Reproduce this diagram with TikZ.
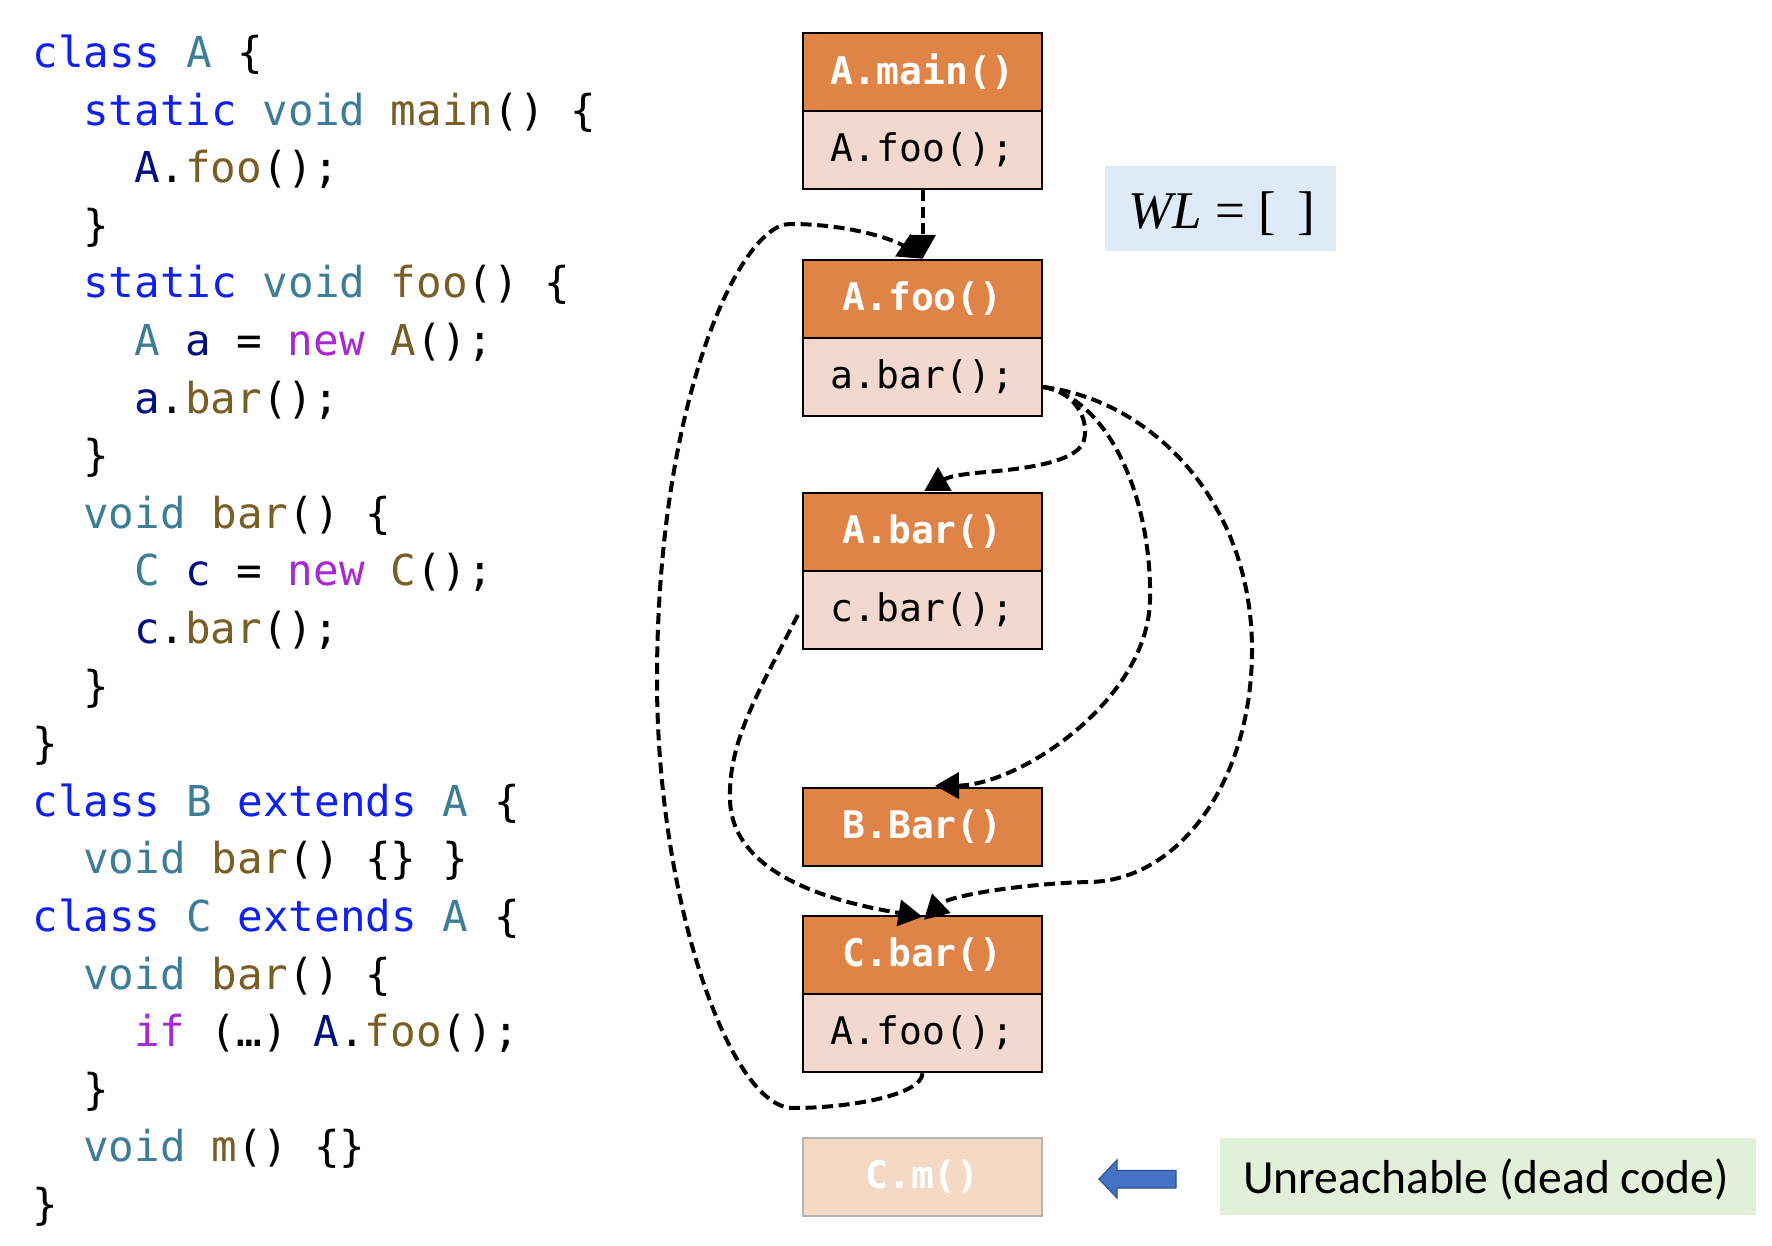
\documentclass[tikz,border=0pt]{standalone}
\usepackage{fontspec}
\setmonofont{DejaVu Sans Mono}
\newfontfamily\wlfont{Liberation Serif}
\newfontfamily\calfont{Carlito}
\usetikzlibrary{arrows.meta}
\definecolor{ckwc}{RGB}{16,32,240}
\definecolor{ctyc}{RGB}{62,125,152}
\definecolor{cfnc}{RGB}{121,94,38}
\definecolor{cvarc}{RGB}{0,16,128}
\definecolor{cpurc}{RGB}{168,40,214}
\definecolor{hdrorange}{RGB}{224,131,71}
\definecolor{bodypink}{RGB}{242,216,206}
\definecolor{deadfill}{RGB}{244,217,196}
\definecolor{deadline}{RGB}{181,181,181}
\definecolor{wlblue}{RGB}{222,234,245}
\definecolor{notegreen}{RGB}{226,239,217}
\definecolor{arrowblue}{RGB}{68,114,196}
\definecolor{arrowedge}{RGB}{47,82,143}
\newcommand{\ckw}[1]{\textcolor{ckwc}{#1}}
\newcommand{\cty}[1]{\textcolor{ctyc}{#1}}
\newcommand{\cfn}[1]{\textcolor{cfnc}{#1}}
\newcommand{\cvar}[1]{\textcolor{cvarc}{#1}}
\newcommand{\cpur}[1]{\textcolor{cpurc}{#1}}
\begin{document}
\begin{tikzpicture}[x=0.5pt,y=-0.5pt,
  codeline/.style={anchor=base west, inner sep=0pt, font=\ttfamily\fontsize{21.3pt}{25pt}\selectfont},
  hdr/.style={draw=black, line width=1.2pt, fill=hdrorange, text=white, minimum width=119.5pt, minimum height=39pt, inner sep=0pt, font=\ttfamily\bfseries\fontsize{19pt}{22pt}\selectfont},
  bdy/.style={hdr, fill=bodypink, text=black, font=\ttfamily\fontsize{19pt}{22pt}\selectfont},
  deadbox/.style={hdr, draw=deadline, fill=deadfill},
  conn/.style={line width=2pt, dash pattern=on 5.5pt off 2.8pt, -{Triangle[length=12pt,width=13pt]}},
]
\useasboundingbox (0,0) rectangle (1772,1246);

% code
\node[codeline] (c1)  at (32,67.5)    {\ckw{class} \cty{A} \{};
\node[codeline] (c2)  at (82.8,125.1) {\ckw{static} \cty{void} \cfn{main}() \{};
\node[codeline] (c3)  at (133.6,182.7) {\cvar{A}.\cfn{foo}();};
\node[codeline] (c4)  at (82.8,240.3) {\}};
\node[codeline] (c5)  at (82.8,297.9) {\ckw{static} \cty{void} \cfn{foo}() \{};
\node[codeline] (c6)  at (133.6,355.5) {\cty{A} \cvar{a} = \cpur{new} \cfn{A}();};
\node[codeline] (c7)  at (133.6,413.1) {\cvar{a}.\cfn{bar}();};
\node[codeline] (c8)  at (82.8,470.7) {\}};
\node[codeline] (c9)  at (82.8,528.3) {\cty{void} \cfn{bar}() \{};
\node[codeline] (c10) at (133.6,585.9) {\cty{C} \cvar{c} = \cpur{new} \cfn{C}();};
\node[codeline] (c11) at (133.6,643.5) {\cvar{c}.\cfn{bar}();};
\node[codeline] (c12) at (82.8,701.1) {\}};
\node[codeline] (c13) at (32,758.7)   {\}};
\node[codeline] (c14) at (32,816.3)   {\ckw{class} \cty{B} \ckw{extends} \cty{A} \{};
\node[codeline] (c15) at (82.8,873.9) {\cty{void} \cfn{bar}() \{\} \}};
\node[codeline] (c16) at (32,931.5)   {\ckw{class} \cty{C} \ckw{extends} \cty{A} \{};
\node[codeline] (c17) at (82.8,989.1) {\cty{void} \cfn{bar}() \{};
\node[codeline] (c18) at (133.6,1046.7) {\cpur{if} (…) \cvar{A}.\cfn{foo}();};
\node[codeline] (c19) at (82.8,1104.3) {\}};
\node[codeline] (c20) at (82.8,1161.9) {\cty{void} \cfn{m}() \{\}};
\node[codeline] (c21) at (32,1219.5)  {\}};

% call graph boxes
\node[hdr] (amainh) at (922.5,72)   {A.main()};
\node[bdy] (amainb) at (922.5,150)  {A.foo();};
\node[hdr] (afooh)  at (922.5,299)  {A.foo()};
\node[bdy] (afoob)  at (922.5,377)  {a.bar();};
\node[hdr] (abarh)  at (922.5,532)  {A.bar()};
\node[bdy] (abarb)  at (922.5,610)  {c.bar();};
\node[hdr] (bbar)   at (922.5,827)  {B.Bar()};
\node[hdr] (cbarh)  at (922.5,955)  {C.bar()};
\node[bdy] (cbarb)  at (922.5,1033) {A.foo();};
\node[deadbox] (cm) at (922.5,1177) {C.m()};

% WL box
\node[fill=wlblue, minimum width=115.5pt, minimum height=42.5pt, inner sep=0pt] (wlbox) at (1220.5,208.5) {};
\node[anchor=base west, inner sep=0pt, font=\wlfont\fontsize{26.5pt}{30pt}\selectfont] (wl) at (1128,228.5) {\textit{WL} = [\hspace{0.4em}]};

% note
\node[fill=notegreen, minimum width=268pt, minimum height=38.5pt, inner sep=0pt] (note) at (1488,1176.5) {};
\node[anchor=base, inner sep=0pt, font=\calfont\fontsize{23.8pt}{28pt}\selectfont] (notetext) at (1486,1193) {Unreachable (dead code)};
\filldraw[fill=arrowblue, draw=arrowedge, line width=0.6pt] (1099,1179) -- (1117,1160) -- (1117,1170.5) -- (1176,1170.5) -- (1176,1188) -- (1117,1188) -- (1117,1198) -- cycle;

% anchors for connectors
\coordinate (fo) at ([yshift=-5pt]afoob.east);
\coordinate (t3) at ([xshift=7.75pt,yshift=12.5pt]abarh.north);
\coordinate (t4) at ([xshift=6.25pt,yshift=0.5pt]bbar.north);
\coordinate (t5) at ([xshift=0.75pt,yshift=-2.5pt]cbarh.north);
\coordinate (t6) at ([yshift=-1pt]cbarh.north);
\coordinate (s6) at ([xshift=-2pt,yshift=-2.5pt]abarb.west);

% connectors
\draw[conn] (amainb.south) -- (afooh.north);
\draw[conn] (cbarb.south) .. controls (922,1095) and (850,1108) .. (793,1108)
  .. controls (730,1108) and (657,900) .. (657,680)
  .. controls (657,400) and (740,224) .. (790,224)
  .. controls (850,224) and (895,240) .. (afooh.north);
\draw[conn] (fo) .. controls (1070,390) and (1090,415) .. (1084,440)
  .. controls (1078,465) and (1010,470) .. (975,473)
  .. controls (950,476) and (938,478) .. (t3);
\draw[conn] (fo) .. controls (1110,400) and (1152,500) .. (1150,600)
  .. controls (1148,700) and (1020,785) .. (t4);
\draw[conn] (fo) .. controls (1150,400) and (1252,500) .. (1252,650)
  .. controls (1252,780) and (1180,880) .. (1090,882)
  .. controls (1030,883) and (950,895) .. (t5);
\draw[conn] (s6) .. controls (760,690) and (728,740) .. (730,800)
  .. controls (732,870) and (820,900) .. (t6);
\end{tikzpicture}
\end{document}
